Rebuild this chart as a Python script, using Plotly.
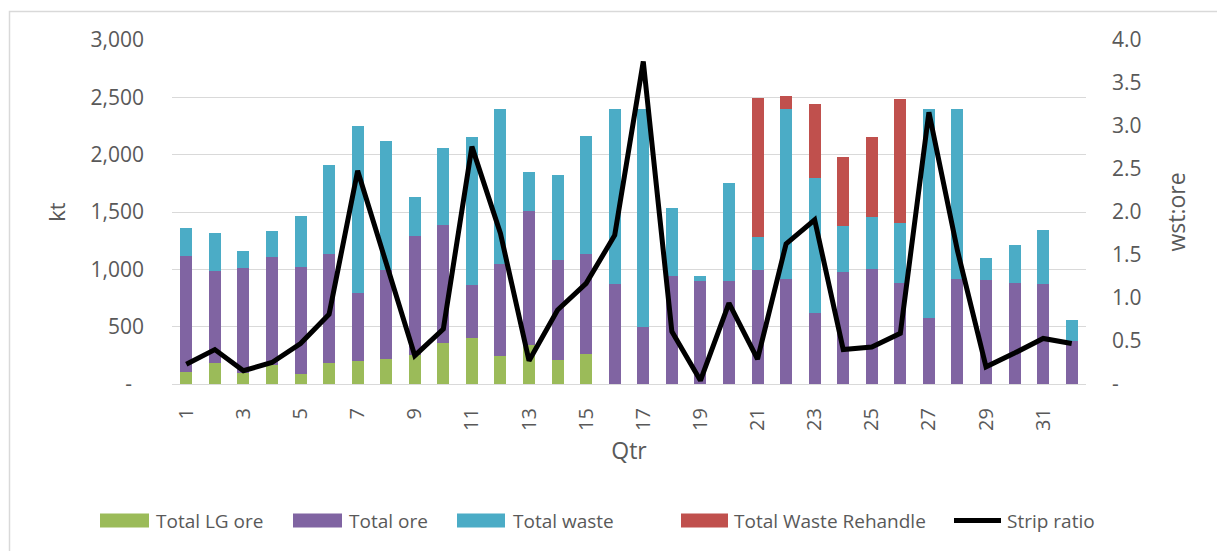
import plotly.graph_objects as go

# ---------------- data ----------------
quarters = list(range(1, 33))
lg_ore = [108, 180, 93, 170, 87, 186, 203, 218, 250, 355, 398, 247, 340, 209, 262,
          0, 0, 0, 0, 0, 0, 0, 0, 0, 0, 0, 0, 0, 0, 0, 0, 0]
total_ore = [1011, 808, 922, 935, 936, 951, 588, 779, 1044, 1032, 465, 797, 1172, 875, 875,
             869, 500, 945, 901, 901, 991, 913, 616, 980, 1006, 884, 573, 919, 910, 884, 869, 378]
total_waste = [241, 326, 145, 226, 439, 773, 1462, 1122, 337, 671, 1288, 1351, 334, 739, 1023,
               1526, 1895, 590, 38, 852, 294, 1482, 1181, 395, 447, 520, 1822, 1476, 189, 325, 471, 177]
waste_rehandle = [0, 0, 0, 0, 0, 0, 0, 0, 0, 0, 0, 0, 0, 0, 0,
                  0, 0, 0, 0, 0, 1209, 117, 642, 605, 704, 1084, 0, 0, 0, 0, 0, 0]
strip_ratio = [0.23, 0.40, 0.155, 0.25, 0.47, 0.81, 2.48, 1.42, 0.33, 0.64, 2.76, 1.75, 0.27, 0.86, 1.17,
               1.73, 3.75, 0.61, 0.04, 0.94, 0.29, 1.63, 1.91, 0.40, 0.43, 0.59, 3.16, 1.55, 0.20, 0.36, 0.53, 0.47]

series_names = ["Total LG ore", "Total ore", "Total waste", "Total Waste Rehandle", "Strip ratio"]
left_tickvals = [0, 500, 1000, 1500, 2000, 2500, 3000]
left_ticktext = ["-\u2007", "500", "1,000", "1,500", "2,000", "2,500", "3,000"]
right_tickvals = [0, 0.5, 1.0, 1.5, 2.0, 2.5, 3.0, 3.5, 4.0]
right_ticktext = ["-", "0.5", "1.0", "1.5", "2.0", "2.5", "3.0", "3.5", "4.0"]
x_tickvals = [q for q in quarters if q % 2 == 1]

# ---------------- style ----------------
colors = ["#9BBB59", "#8064A2", "#4BACC6", "#C0504D", "#000000"]
FONT = "Open Sans"
TXT = "#595959"
GRID = "#D9D9D9"

W, H = 1217, 551
L, R, T, B = 172, 1086, 40, 384


def px2x(px):
    return (px - L) / (R - L)


def px2y(py):
    return (B - py) / (B - T)


fig = go.Figure()
bar_series = [lg_ore, total_ore, total_waste, waste_rehandle]
for name, vals, col in zip(series_names[:4], bar_series, colors[:4]):
    fig.add_trace(go.Bar(x=quarters, y=vals, name=name, marker=dict(color=col, line=dict(width=0)),
                         showlegend=False))

fig.add_trace(go.Scatter(x=quarters, y=strip_ratio, name=series_names[4], mode="lines",
                         line=dict(color=colors[4], width=5), yaxis="y2", showlegend=False))

# ---------------- custom legend ----------------
legend_swatch = [(100, 149), (293, 342), (457, 505), (681, 728), (952, 1003)]
legend_text_x = [154, 347, 511, 732, 1005]
leg_y = 520.5
shapes = []
annotations = []
for i, name in enumerate(series_names):
    x0, x1 = legend_swatch[i]
    if i < 4:
        shapes.append(dict(type="rect", xref="paper", yref="paper",
                           x0=px2x(x0), x1=px2x(x1), y0=px2y(leg_y + 7), y1=px2y(leg_y - 7),
                           fillcolor=colors[i], line=dict(width=0)))
    else:
        shapes.append(dict(type="line", xref="paper", yref="paper",
                           x0=px2x(x0 + 2), x1=px2x(x1 - 2), y0=px2y(leg_y), y1=px2y(leg_y),
                           line=dict(color=colors[i], width=5)))
    annotations.append(dict(text=name, xref="paper", yref="paper", x=px2x(legend_text_x[i]),
                            y=px2y(leg_y), xanchor="left", yanchor="middle", showarrow=False,
                            font=dict(family=FONT, size=19, color=TXT)))

# outer frame of the chart area
shapes.append(dict(type="rect", xref="paper", yref="paper",
                   x0=px2x(9.5), x1=px2x(W + 20), y0=px2y(H + 20), y1=px2y(11.5),
                   line=dict(color=GRID, width=1.5), fillcolor="rgba(0,0,0,0)", layer="below"))

fig.update_layout(
    width=W, height=H,
    margin=dict(l=L, r=W - R, t=T, b=H - B),
    barmode="stack", bargap=0.58,
    paper_bgcolor="white", plot_bgcolor="white",
    font=dict(family=FONT, color=TXT, size=20),
    showlegend=False,
    shapes=shapes, annotations=annotations,
    xaxis=dict(range=[0.5, 32.5], tickmode="array", tickvals=x_tickvals,
               ticktext=[str(v) for v in x_tickvals], tickangle=-90,
               tickfont=dict(size=20, color=TXT), showgrid=False, zeroline=False,
               showline=True, linecolor=GRID, linewidth=1.3, ticks="", ticklabelstandoff=15,
               title=dict(text="Qtr", font=dict(size=23, color=TXT), standoff=12)),
    yaxis=dict(range=[0, 3000], tickmode="array", tickvals=left_tickvals, ticktext=left_ticktext,
               tickfont=dict(size=21, color=TXT), showgrid=True, gridcolor=GRID, gridwidth=1.3,
               zeroline=False, showline=False, ticks="", ticklabelstandoff=27,
               title=dict(text="kt", font=dict(size=22, color=TXT), standoff=18)),
    yaxis2=dict(range=[0, 4.0], overlaying="y", side="right", tickmode="array",
                tickvals=right_tickvals, ticktext=right_ticktext,
                tickfont=dict(size=21, color=TXT), showgrid=False, zeroline=False,
                showline=False, ticks="", ticklabelstandoff=25,
                title=dict(text="wst:ore", font=dict(size=23, color=TXT), standoff=28)),
)

fig.write_html("out.html")
